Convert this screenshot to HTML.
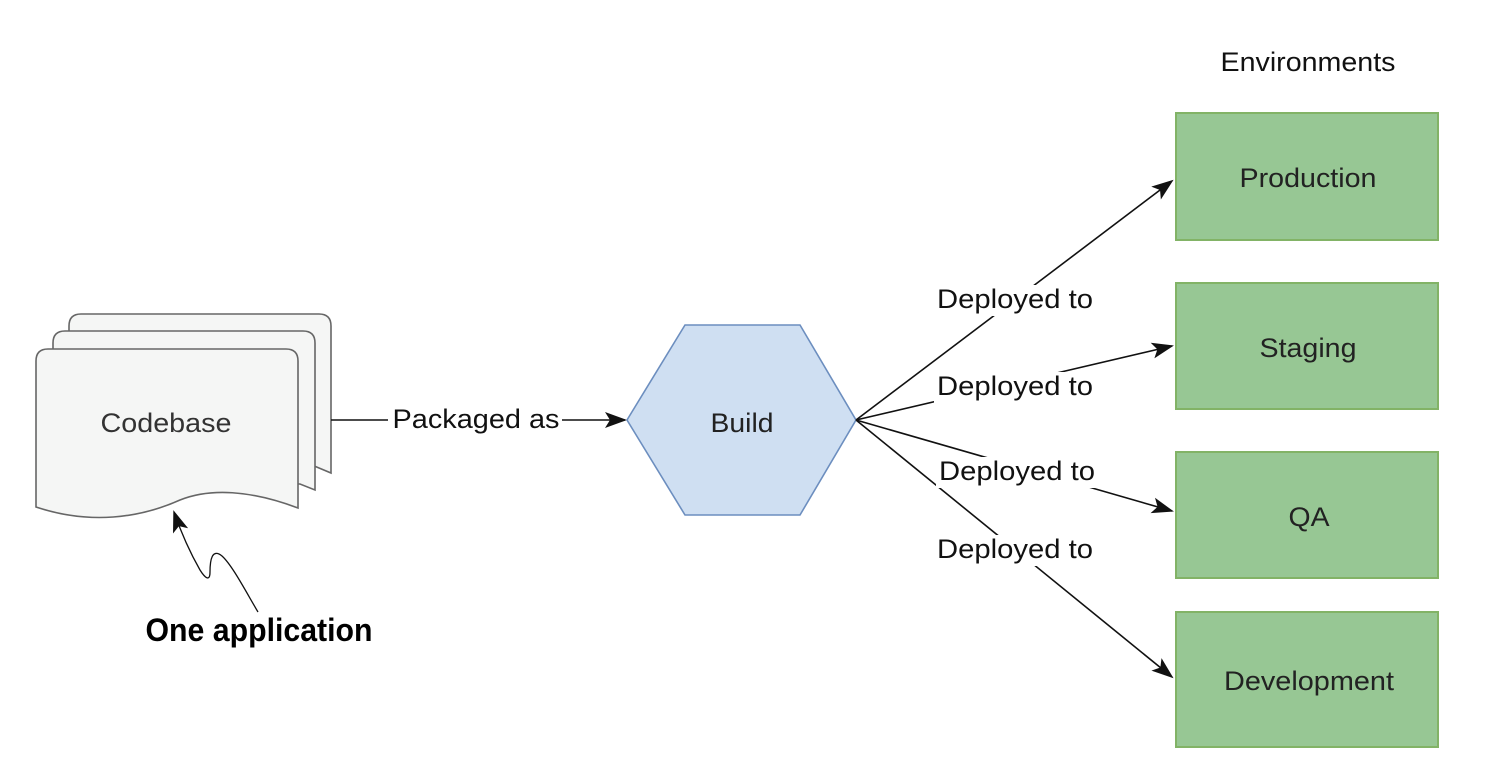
<!DOCTYPE html>
<html><head><meta charset="utf-8"><style>
html,body{margin:0;padding:0;background:#fff;}
svg{display:block;}
text{font-family:"Liberation Sans",Arial,sans-serif;}
</style></head><body>
<svg width="1508" height="759" viewBox="0 0 1508 759" xmlns="http://www.w3.org/2000/svg">
<defs>
<marker id="ah2" markerWidth="22" markerHeight="22" refX="20" refY="11" orient="auto" markerUnits="userSpaceOnUse" viewBox="0 0 22 22">
<path d="M0,3 L22,11 L0,19 L5,11 z" fill="#111"/>
</marker>
</defs>
<!-- codebase stack -->
<path d="M69,326 Q69,314 81,314 L319,314 Q331,314 331,326 L331,473 L300,460 L69,460 Z" fill="#f5f6f5" stroke="#666" stroke-width="1.6"/>
<path d="M53,343 Q53,331 65,331 L303,331 Q315,331 315,343 L315,490 L300,484 L53,484 Z" fill="#f5f6f5" stroke="#666" stroke-width="1.6"/>
<path d="M36,361 Q36,349 48,349 L286,349 Q298,349 298,361 L298,508 C250,490 210,488 180,500 C140,518 90,525 36,507 Z" fill="#f5f6f5" stroke="#666" stroke-width="1.6"/>
<text x="166" y="432" font-size="27" fill="#333" text-anchor="middle" textLength="131" lengthAdjust="spacingAndGlyphs">Codebase</text>
<!-- packaged as -->
<line x1="331" y1="420" x2="625" y2="420" stroke="#111" stroke-width="1.6" marker-end="url(#ah2)"/>
<rect x="388" y="404" width="174" height="32" fill="#fff"/>
<text x="476" y="428" font-size="27" fill="#111" text-anchor="middle" textLength="167" lengthAdjust="spacingAndGlyphs">Packaged as</text>
<!-- build -->
<polygon points="627,420 685,325 800,325 856,420 800,515 685,515" fill="#cfdff2" stroke="#6c8ebf" stroke-width="1.6"/>
<text x="742" y="432" font-size="27" fill="#222" text-anchor="middle" textLength="63" lengthAdjust="spacingAndGlyphs">Build</text>
<!-- deploy arrows -->
<g stroke="#111" stroke-width="1.6" fill="none">
<line x1="856" y1="420" x2="1172" y2="181" marker-end="url(#ah2)"/>
<line x1="856" y1="420" x2="1172" y2="346" marker-end="url(#ah2)"/>
<line x1="856" y1="420" x2="1172" y2="511" marker-end="url(#ah2)"/>
<line x1="856" y1="420" x2="1172" y2="677" marker-end="url(#ah2)"/>
</g>
<g fill="#fff">
<rect x="934" y="285" width="162" height="31"/>
<rect x="934" y="372" width="162" height="31"/>
<rect x="936" y="457" width="162" height="31"/>
<rect x="934" y="535" width="162" height="31"/>
</g>
<g font-size="27" fill="#111" text-anchor="middle">
<text x="1015" y="308" textLength="156" lengthAdjust="spacingAndGlyphs">Deployed to</text>
<text x="1015" y="395" textLength="156" lengthAdjust="spacingAndGlyphs">Deployed to</text>
<text x="1017" y="480" textLength="156" lengthAdjust="spacingAndGlyphs">Deployed to</text>
<text x="1015" y="558" textLength="156" lengthAdjust="spacingAndGlyphs">Deployed to</text>
</g>
<!-- environments -->
<text x="1308" y="71" font-size="27" fill="#111" text-anchor="middle" textLength="175" lengthAdjust="spacingAndGlyphs">Environments</text>
<g fill="#97c794" stroke="#82b366" stroke-width="2">
<rect x="1176" y="113" width="262" height="127"/>
<rect x="1176" y="283" width="262" height="126"/>
<rect x="1176" y="452" width="262" height="126"/>
<rect x="1176" y="612" width="262" height="135"/>
</g>
<g font-size="27" fill="#222" text-anchor="middle">
<text x="1308" y="187" textLength="137" lengthAdjust="spacingAndGlyphs">Production</text>
<text x="1308" y="357" textLength="97" lengthAdjust="spacingAndGlyphs">Staging</text>
<text x="1309" y="526" textLength="41" lengthAdjust="spacingAndGlyphs">QA</text>
<text x="1309" y="690" textLength="170" lengthAdjust="spacingAndGlyphs">Development</text>
</g>
<!-- one application -->
<path d="M258,612 C245,590 232,565 222,556 C212,548 210,560 210,572 C210,582 205,578 200,570 C192,556 182,535 174,512" fill="none" stroke="#111" stroke-width="1.3" marker-end="url(#ah2)"/>
<text x="259" y="641" font-size="32" font-weight="bold" fill="#000" text-anchor="middle" font-family="'Liberation Sans Narrow','Liberation Sans',sans-serif" textLength="227" lengthAdjust="spacingAndGlyphs">One application</text>
</svg>
</body></html>
